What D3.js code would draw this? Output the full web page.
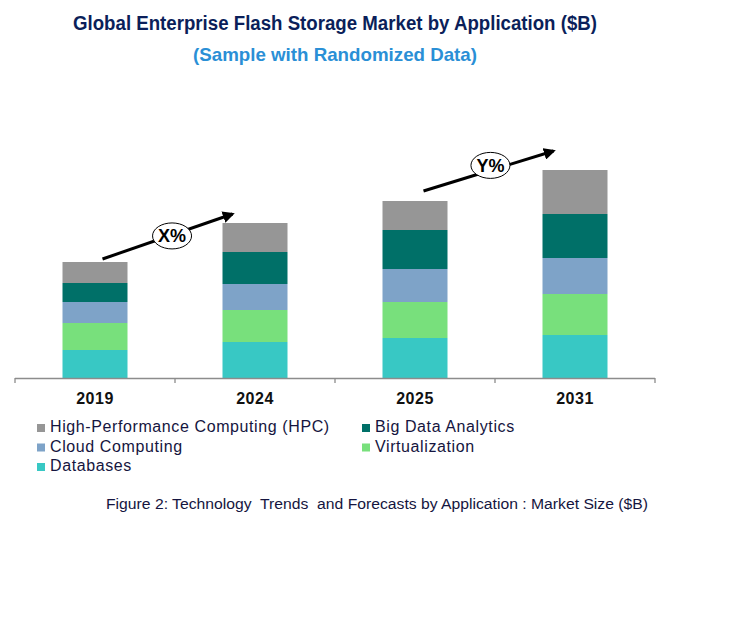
<!DOCTYPE html>
<html>
<head>
<meta charset="utf-8">
<script src="https://cdn.jsdelivr.net/npm/d3@7"></script>
<style>
  html, body { margin: 0; padding: 0; background: #ffffff; }
  svg { display: block; font-family: Arial, "Liberation Sans", sans-serif; }
</style>
</head>
<body>
<div id="chart"></div>
<script>
// ---- Data ----
const years = ["2019", "2024", "2025", "2031"];
const seriesNames = ["Databases", "Virtualization", "Cloud Computing", "Big Data Analytics", "High-Performance Computing (HPC)"];
const databases      = [28, 36, 40, 43];
const virtualization = [27, 32, 36, 41];
const cloudComputing = [21, 26, 33, 36];
const bigDataAnalytics = [19, 32, 39, 44];
const hpc            = [21, 29, 29, 44];
const seriesColors = ["#38c8c4", "#78e07c", "#7ea3c8", "#007068", "#969696"];
const legendOrder = ["High-Performance Computing (HPC)", "Big Data Analytics", "Cloud Computing", "Virtualization", "Databases"];
const growthLabels = ["X%", "Y%"];

const W = 741, H = 621;
const svg = d3.select("#chart").append("svg").attr("width", W).attr("height", H);

// Build table for stack
const seriesValues = [databases, virtualization, cloudComputing, bigDataAnalytics, hpc];
const table = years.map((yr, i) => {
  const row = { year: yr };
  seriesNames.forEach((s, j) => row[s] = seriesValues[j][i]);
  return row;
});
const stacked = d3.stack().keys(seriesNames)(table);
const color = d3.scaleOrdinal().domain(seriesNames).range(seriesColors);

const x = d3.scaleBand().domain(years).range([15, 655]).paddingInner(0.59375).paddingOuter(0.296875);
const y = d3.scaleLinear().domain([0, 240]).range([378, 138]);

// Bars
svg.append("g").selectAll("g").data(stacked).join("g")
  .attr("fill", d => color(d.key))
  .selectAll("rect").data(d => d).join("rect")
  .attr("x", d => x(d.data.year))
  .attr("y", d => y(d[1]))
  .attr("width", x.bandwidth())
  .attr("height", d => y(d[0]) - y(d[1]));

// Axis
const axisG = svg.append("g").attr("stroke", "#8c8c8c").attr("stroke-width", 1.3);
const [r0, r1] = x.range();
axisG.append("line").attr("x1", r0).attr("x2", r1).attr("y1", y(0) + 0.5).attr("y2", y(0) + 0.5);
d3.range(years.length + 1).forEach(i => {
  const tx = r0 + i * x.step();
  axisG.append("line").attr("x1", tx).attr("x2", tx).attr("y1", y(0)).attr("y2", y(0) + 5);
});
svg.append("g").selectAll("text").data(years).join("text")
  .attr("x", d => x(d) + x.bandwidth() / 2)
  .attr("y", 404)
  .attr("text-anchor", "middle")
  .attr("font-weight", "bold")
  .attr("font-size", 16)
  .attr("letter-spacing", 0.5)
  .attr("fill", "#111")
  .text(d => d);

// Growth arrows
const totals = table.map(r => d3.sum(seriesNames, s => r[s]));
const defs = svg.append("defs");
defs.append("marker").attr("id", "arrowhead")
  .attr("viewBox", "0 0 10 10").attr("refX", 8).attr("refY", 5)
  .attr("markerWidth", 4).attr("markerHeight", 4)
  .attr("orient", "auto")
  .append("path").attr("d", "M0,0 L10,5 L0,10 z").attr("fill", "#000");

const arrows = [
  { from: 0, to: 1, sx: 40, sy: -3, ex: 10, ey: -9, label: growthLabels[0], t: 0.535, dy: 1 },
  { from: 2, to: 3, sx: 41, sy: -10, ex: 11, ey: -19, label: growthLabels[1], t: 0.515, dy: -5 }
];
arrows.forEach(a => {
  const x1 = x(years[a.from]) + a.sx, y1 = y(totals[a.from]) + a.sy;
  const x2 = x(years[a.to]) + a.ex, y2 = y(totals[a.to]) + a.ey;
  svg.append("line").attr("x1", x1).attr("y1", y1).attr("x2", x2).attr("y2", y2)
    .attr("stroke", "#000").attr("stroke-width", 3).attr("marker-end", "url(#arrowhead)");
  const cx = x1 + (x2 - x1) * a.t, cy = y1 + (y2 - y1) * a.t + a.dy;
  svg.append("ellipse").attr("cx", cx).attr("cy", cy).attr("rx", 19.5).attr("ry", 13)
    .attr("fill", "#fff").attr("stroke", "#000").attr("stroke-width", 1);
  svg.append("text").attr("x", cx).attr("y", cy + 6.5).attr("text-anchor", "middle")
    .attr("font-weight", "bold").attr("font-size", 18).attr("fill", "#000").text(a.label);
});

// Titles
svg.append("text").attr("x", 73).attr("y", 30)
  .attr("font-weight", "bold").attr("font-size", 19.5).attr("fill", "#0b1f5a")
  .attr("textLength", 524).attr("lengthAdjust", "spacingAndGlyphs")
  .text("Global Enterprise Flash Storage Market by Application ($B)");
svg.append("text").attr("x", 193).attr("y", 61)
  .attr("font-weight", "bold").attr("font-size", 19).attr("fill", "#2a8fd6")
  .attr("textLength", 284).attr("lengthAdjust", "spacingAndGlyphs")
  .text("(Sample with Randomized Data)");

// Legend
const legendPos = [
  { x: 37, row: 0 }, { x: 362, row: 0 },
  { x: 37, row: 1 }, { x: 362, row: 1 },
  { x: 37, row: 2 }
];
const legend = svg.append("g").selectAll("g").data(legendOrder).join("g")
  .attr("transform", (d, i) => `translate(${legendPos[i].x},${432 + legendPos[i].row * 19.5})`);
legend.append("rect").attr("x", 0).attr("y", -8).attr("width", 8).attr("height", 8)
  .attr("fill", d => color(d));
legend.append("text").attr("x", 13).attr("y", 0)
  .attr("font-size", 16).attr("letter-spacing", 0.6).attr("fill", "#151540")
  .text(d => d);

// Caption
svg.append("text").attr("x", 106).attr("y", 509)
  .attr("font-size", 14).attr("fill", "#151540")
  .attr("textLength", 542).attr("lengthAdjust", "spacingAndGlyphs")
  .style("white-space", "pre")
  .text("Figure 2: Technology  Trends  and Forecasts by Application : Market Size ($B)");
</script>
</body>
</html>
